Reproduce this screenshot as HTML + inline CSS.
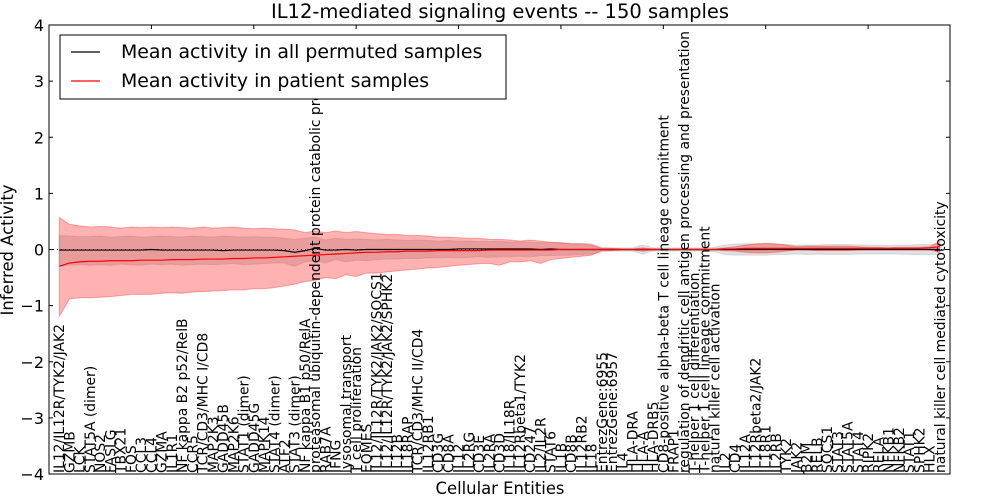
<!DOCTYPE html>
<html><head><meta charset="utf-8"><style>
html,body{margin:0;padding:0;background:#fff;}
svg{display:block;font-family:"DejaVu Sans","Liberation Sans",sans-serif;}
</style></head><body>
<svg id="chart" width="1000" height="500" viewBox="0 0 1000 500">
<text x="500" y="18" text-anchor="middle" font-size="19.5">IL12-mediated signaling events -- 150 samples</text>
<text transform="translate(13,250) rotate(-90)" text-anchor="middle" font-size="16.4">Inferred Activity</text>
<text x="500" y="494" text-anchor="middle" font-size="16.4">Cellular Entities</text>
<g id="plot"></g>
</svg>
<script>
const categories=["IL12/IL12R/TYK2/JAK2","GZMB","LCK","STAT5A (dimer)","NOS2","FASLG","TBX21","FOS","CCL3","CCL4","GZMA","IL1R1","NF kappa B2 p52/RelB","CCR5","TCR/CD3/MHC I/CD8","MAP2K3","GADD45B","MAP2K6","STAT1 (dimer)","GADD45G","MAPK14","STAT4 (dimer)","ATF2","STAT3 (dimer)","NF kappa B1 p50/RelA","proteasomal ubiquitin-dependent protein catabolic process","RAB7A","IFNG","lysosomal transport","T cell proliferation","EOMES","IL12/IL12R/TYK2/JAK2/SOCS1","IL12/IL12R/TYK2/JAK2/SPHK2","IL12B","IL18RAP","TCR/CD3/MHC II/CD4","IL12RB1","CD3G","CD8A","IL12","IL2RG","CD3E","IL2RA","CD3D","IL18/IL18R","IL12Rbeta1/TYK2","CD247","IL2/IL2R","STAT6","IL1B","CD8B","IL12RB2","IL18","EntrezGene:6955","EntrezGene:6957","IL4","HLA-DRA","HLA-A","HLA-DRB5","CD8-positive alpha-beta T cell lineage commitment","FRAP1","regulation of dendritic cell antigen processing and presentation","T-helper 1 cell differentiation","T-helper 1 cell lineage commitment","natural killer cell activation","IL2","CD4","IL12A","IL12Rbeta2/JAK2","IL18R1","IL2RB","TYK2","JAK2","B2M","RELB","SOCS1","STAT3","STAT5A","STAT4","RIPK2","RELA","NFKB1","NFKB2","STAT1","SPHK2","HLX","natural killer cell mediated cytotoxicity"];
const redMean=[-0.30,-0.24,-0.22,-0.21,-0.21,-0.20,-0.20,-0.20,-0.19,-0.19,-0.19,-0.18,-0.18,-0.18,-0.17,-0.17,-0.17,-0.16,-0.16,-0.15,-0.15,-0.14,-0.13,-0.12,-0.11,-0.10,-0.09,-0.08,-0.07,-0.06,-0.05,-0.05,-0.04,-0.04,-0.03,-0.03,-0.03,-0.02,-0.02,-0.02,-0.02,-0.02,-0.01,-0.01,-0.01,-0.01,-0.01,-0.01,-0.01,0,0,0,0,0,0,0,0,0,0,0,0,0,0,0,0,0.01,0.01,0.02,0.02,0.02,0.02,0.02,0.02,0.02,0.02,0.02,0.02,0.02,0.02,0.02,0.02,0.02,0.02,0.02,0.02,0.03,0.05];
const redUp=[0.57,0.45,0.42,0.40,0.41,0.40,0.38,0.40,0.39,0.40,0.39,0.40,0.39,0.38,0.40,0.38,0.39,0.40,0.38,0.37,0.38,0.37,0.36,0.35,0.30,0.33,0.30,0.33,0.30,0.32,0.30,0.28,0.27,0.27,0.25,0.25,0.24,0.22,0.22,0.21,0.20,0.20,0.18,0.18,0.17,0.15,0.17,0.15,0.13,0.12,0.10,0.10,0.08,0.02,0.02,0.01,0.01,0.03,0.01,0.01,0.01,0.01,0.01,0.01,0.01,0.03,0.05,0.08,0.10,0.11,0.10,0.08,0.05,0.06,0.06,0.06,0.06,0.06,0.05,0.04,0.04,0.03,0.04,0.04,0.04,0.05,0.15];
const redLo=[-1.19,-0.88,-0.86,-0.86,-0.85,-0.84,-0.82,-0.80,-0.80,-0.80,-0.78,-0.77,-0.78,-0.76,-0.75,-0.74,-0.73,-0.72,-0.72,-0.70,-0.70,-0.68,-0.65,-0.62,-0.57,-0.55,-0.50,-0.52,-0.45,-0.48,-0.42,-0.42,-0.40,-0.38,-0.36,-0.35,-0.33,-0.32,-0.30,-0.28,-0.27,-0.25,-0.25,-0.28,-0.22,-0.22,-0.20,-0.25,-0.18,-0.16,-0.14,-0.12,-0.10,-0.02,-0.02,-0.01,-0.01,-0.03,-0.01,-0.01,-0.01,-0.01,-0.01,-0.01,-0.01,-0.02,-0.03,-0.05,-0.06,-0.06,-0.05,-0.03,-0.01,-0.01,-0.02,-0.02,-0.02,-0.02,-0.01,-0.01,-0.01,-0.01,-0.01,-0.01,-0.01,-0.01,-0.05];
const greyUp=[0.25,0.24,0.23,0.23,0.24,0.22,0.23,0.24,0.22,0.23,0.24,0.23,0.22,0.24,0.23,0.22,0.24,0.23,0.22,0.23,0.22,0.22,0.20,0.18,0.20,0.22,0.17,0.20,0.18,0.19,0.18,0.17,0.18,0.17,0.16,0.17,0.16,0.15,0.16,0.15,0.15,0.14,0.14,0.15,0.13,0.14,0.13,0.12,0.12,0.12,0.11,0.11,0.10,0.04,0.03,0.03,0.03,0.08,0.03,0.03,0.03,0.03,0.03,0.03,0.04,0.08,0.10,0.10,0.10,0.10,0.10,0.09,0.08,0.08,0.08,0.09,0.09,0.09,0.08,0.08,0.08,0.07,0.08,0.08,0.09,0.09,0.09];
const greyLo=[-0.30,-0.28,-0.27,-0.28,-0.27,-0.28,-0.26,-0.27,-0.28,-0.26,-0.27,-0.26,-0.28,-0.27,-0.26,-0.27,-0.26,-0.25,-0.27,-0.26,-0.25,-0.24,-0.24,-0.30,-0.22,-0.20,-0.24,-0.18,-0.22,-0.19,-0.20,-0.18,-0.17,-0.17,-0.16,-0.16,-0.15,-0.15,-0.14,-0.15,-0.14,-0.13,-0.14,-0.13,-0.13,-0.12,-0.13,-0.11,-0.11,-0.10,-0.10,-0.09,-0.08,-0.04,-0.03,-0.03,-0.03,-0.08,-0.03,-0.03,-0.03,-0.03,-0.03,-0.03,-0.04,-0.09,-0.10,-0.10,-0.10,-0.10,-0.09,-0.09,-0.08,-0.09,-0.08,-0.09,-0.09,-0.09,-0.08,-0.08,-0.08,-0.08,-0.08,-0.09,-0.09,-0.09,-0.09];
const blackMean=[-0.01,-0.01,-0.01,-0.01,-0.01,-0.01,-0.01,-0.01,-0.01,0.00,-0.01,-0.01,-0.01,-0.01,-0.01,-0.01,-0.02,-0.01,-0.01,-0.01,-0.01,-0.01,-0.02,-0.05,-0.02,0.02,-0.01,-0.01,0.00,-0.01,0.00,0.00,0.00,0.00,0.00,0.00,0.00,0.00,0.00,0.01,0.01,0.01,0.01,0.01,0.01,0.01,0.01,0.00,0.01,0.00,0.00,0.00,0.00,0,0,0,0,0,0,0,0,0,0,0,0,0,0,0,0,0,0,0,0,0,0,0,0,0,0,0,0,0,0,0,0,0,0];
const yTicks=[-4,-3,-2,-1,0,1,2,3,4];
const xTicks=[10,20,30,40,50,60,70,80];

const L=49,R=950,T=25,B=474,XMAX=88;
const sx=v=>L+v*(R-L)/XMAX;
const sy=v=>T+(4-v)*(B-T)/8;
const NS="http://www.w3.org/2000/svg";
const g=document.getElementById('plot');
function mk(tag,attrs){const e=document.createElementNS(NS,tag);for(const k in attrs)e.setAttribute(k,attrs[k]);g.appendChild(e);return e;}
function band(up,lo,fill,op,name){
  let d='';up.forEach((v,i)=>{d+=(i?'L':'M')+sx(i+1)+','+sy(v);});
  for(let i=lo.length-1;i>=0;i--)d+='L'+sx(i+1)+','+sy(lo[i]);
  const p=mk('path',{d:d+'Z',fill:fill,'fill-opacity':op,stroke:fill,'stroke-opacity':op,'stroke-width':1});
  
  
}
function line(vals,color,w,name){
  let d='';vals.forEach((v,i)=>{d+=(i?'L':'M')+sx(i+1)+','+sy(v);});
  const p=mk('path',{d:d,fill:'none',stroke:color,'stroke-width':w});
  
  
}
band(greyUp,greyLo,'#bbbbbb',0.45,'permuted-band');
band(redUp,redLo,'#ff0000',0.3,'patient-band');
const z=mk('line',{x1:L,x2:R,y1:sy(0),y2:sy(0),stroke:'#000','stroke-width':1,'stroke-dasharray':'1,3'});


line(blackMean,'#000',1.2,'permuted-mean-line');
line(redMean,'#ff0000',1.2,'patient-mean-line');
const fr=mk('rect',{x:L,y:T,width:R-L,height:B-T,fill:'none',stroke:'#000','stroke-width':1});


yTicks.forEach(v=>{
  const y=sy(v);
  const t1=mk('line',{x1:L,x2:L+4,y1:y,y2:y,stroke:'#000'});
  
  
  const t2=mk('line',{x1:R-4,x2:R,y1:y,y2:y,stroke:'#000'});
  
  
  const tx=mk('text',{x:L-5,y:y+6,'text-anchor':'end','font-size':16});
  tx.textContent=(v<0?'\u2212'+(-v):String(v));
  
  
});
xTicks.forEach(v=>{
  const x=sx(v);
  const t=mk('line',{x1:x,x2:x,y1:T,y2:T+4,stroke:'#000'});
  
  
});
categories.forEach((c,i)=>{
  const x=sx(i+1);
  const t=mk('text',{transform:'translate('+(x+5)+','+(B-1)+') rotate(-90)','font-size':13.9});
  t.textContent=c;
  
  
});
const lg=mk('rect',{x:60,y:35,width:446,height:64,fill:'#fff',stroke:'#000','stroke-width':1});


[['Mean activity in all permuted samples','#000',52],['Mean activity in patient samples','#ff0000',81]].forEach(([s,c,y])=>{
  const l=mk('line',{x1:71,x2:100,y1:y,y2:y,stroke:c,'stroke-width':1.2});
  
  
  const t=mk('text',{x:121,y:y+6,'font-size':18.9});
  t.textContent=s;
  
  
});
</script>
</body></html>
